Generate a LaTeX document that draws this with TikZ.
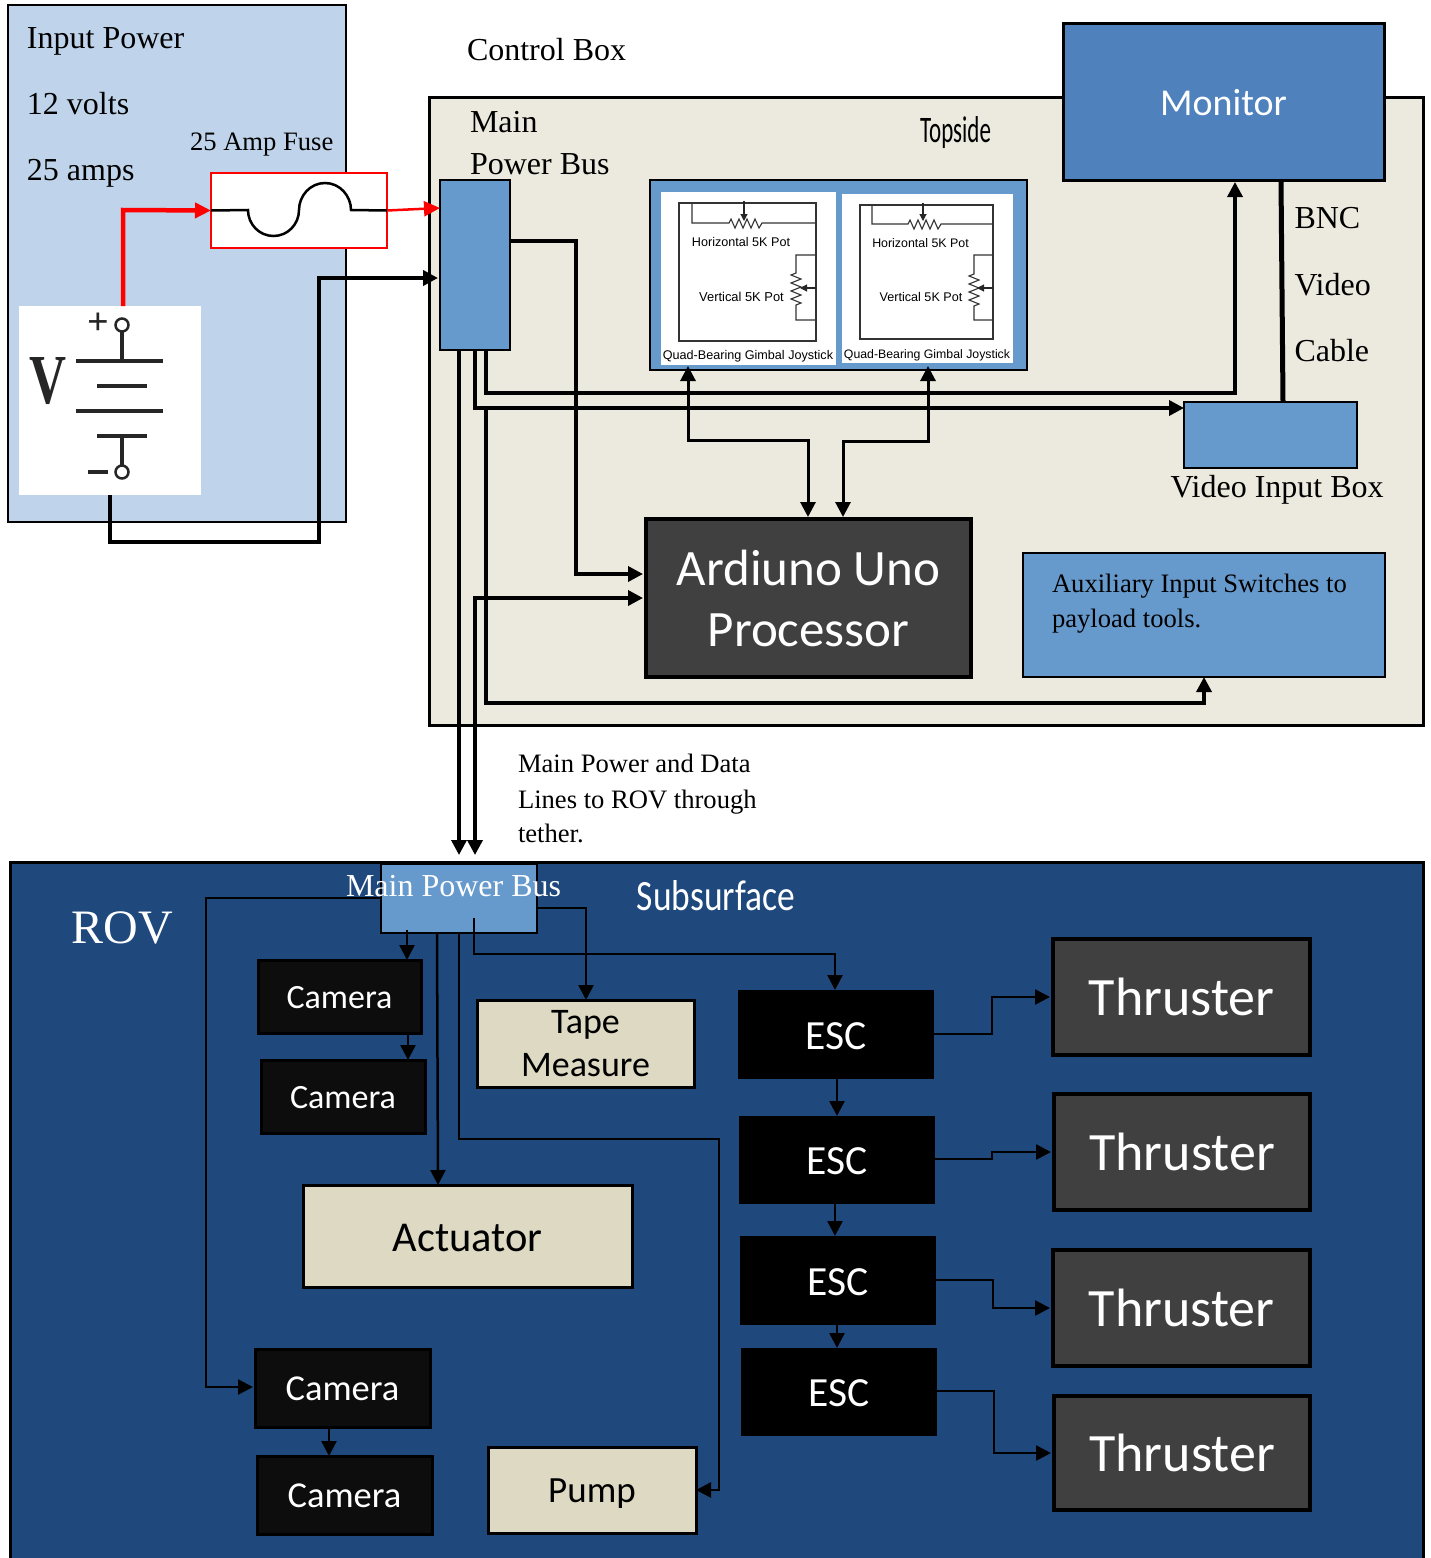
\documentclass[tikz,border=0pt]{standalone}
\usepackage{fontspec}
\usepackage{graphicx}
\setmainfont{Liberation Serif}
\newfontfamily\crl{Carlito}
\newfontfamily\ari{Liberation Sans}
\usetikzlibrary{arrows.meta,calc}
\definecolor{pale}{HTML}{BFD4EA}
\definecolor{cream}{HTML}{ECEADE}
\definecolor{steel}{HTML}{4F81BD}
\definecolor{midblue}{HTML}{6699CC}
\definecolor{navy}{HTML}{1F497D}
\definecolor{dgrey}{HTML}{404040}
\definecolor{nearblk}{HTML}{0D0D0D}
\definecolor{tanfill}{HTML}{DDD9C3}
\newcommand{\fs}[1]{\fontsize{#1}{#1}\selectfont}
\newcommand{\fl}[2]{\fontsize{#1}{#2}\selectfont}
\newcommand{\bx}[7]{%
  \pgfmathsetmacro{\bxw}{#4-#2}\pgfmathsetmacro{\bxh}{#5-#3}%
  \pgfmathsetmacro{\bxx}{(#2+#4)/2}\pgfmathsetmacro{\bxy}{(#3+#5)/2}%
  \node[#6,minimum width=\bxw pt,minimum height=\bxh pt] (#1) at (\bxx,\bxy) {#7};}
\tikzset{
  x=1pt,y=-1pt,
  every node/.style={inner sep=0pt,outer sep=0pt},
  lbl/.style={anchor=base west,align=left},
  srf/.style={lbl,font=\fs{32}},
  srfs/.style={lbl,font=\fs{26.6}},
  bus/.style={draw=black,line width=2pt,fill=midblue},
  escbox/.style={fill=black,text=white,font=\crl\fs{41.5},text height=29pt,text depth=0pt},
  cambox/.style={draw=black,line width=3pt,fill=nearblk,text=white,font=\crl\fs{34},text height=24pt,text depth=0pt},
  cambig/.style={draw=black,line width=3pt,fill=nearblk,text=white,font=\crl\fs{36.5},text height=24.5pt,text depth=0pt},
  thrbox/.style={draw=black,line width=4pt,fill=dgrey,text=white,font=\crl\fs{54},text height=37pt,text depth=0pt},
  tanbox/.style={draw=black,line width=3pt,fill=tanfill,text=black,align=center},
  ctl/.style={line width=3.5pt,-{Triangle[length=15pt,width=15pt]}},
  dbl/.style={line width=3pt,{Triangle[length=15pt,width=15pt]}-{Triangle[length=15pt,width=15pt]},shorten <=-4pt,shorten >=2pt},
  rov/.style={line width=2.5pt,-{Triangle[length=15pt,width=15pt]}},
  wire/.style={line width=1.1pt,black!80},
  tinyarr/.style={line width=1.1pt,black!85,-{Triangle[length=7pt,width=7pt]}},
  sym/.style={line width=3.5pt,black!85},
}
\begin{document}
\begin{tikzpicture}
\useasboundingbox (0,0) rectangle (1431,1558);
% --- panels
\bx{inputpanel}{8}{5}{346}{522}{draw=black,line width=2pt,fill=pale}{}
\bx{controlpanel}{429}{97}{1423}{725}{draw=black,line width=3pt,fill=cream}{}
\begin{scope}
\clip (0,0) rectangle (1431,1558);
\bx{rovpanel}{10}{862}{1423}{1570}{draw=black,line width=3pt,fill=navy}{}
\end{scope}
% --- top text
\node[srf] (tInput) at (27,48) {Input Power};
\node[srf] (tVolts) at (27,114) {12 volts};
\node[srf] (tAmps) at (27,180) {25 amps};
\node[srfs] (tFuse) at (190,150.5) {25 Amp Fuse};
\node[srf] (tCtl) at (467,60) {Control Box};
\node[srf] (tMain) at (470,132) {Main};
\node[srf] (tPbus) at (470,174) {Power Bus};
\node[anchor=center] (tTop) at (955.5,133) {\resizebox{71pt}{26pt}{\crl Topside}};
\node[srf] (tBnc) at (1294.5,228) {BNC};
\node[srf] (tVid) at (1294.5,295) {Video};
\node[srf] (tCab) at (1294.5,361) {Cable};
\node[srf] (tVib) at (1170.5,497) {Video Input Box};
\node[srfs] (tData1) at (518,772.5) {Main Power and Data};
\node[srfs] (tData2) at (518,808.5) {Lines to ROV through};
\node[srfs] (tData3) at (518,842.5) {tether.};
% --- battery
\bx{battery}{19}{306}{201}{495}{fill=white}{}
\node[anchor=center,black!85] (tV) at (48,381) {\resizebox{37pt}{46pt}{\bfseries V}};
\node[anchor=center,font=\bfseries\fs{38},black!85] (tPlus) at (98,324) {+};
\node[draw=black!85,line width=2.5pt,circle,minimum size=13pt] (bt) at (122,325) {};
\node[draw=black!85,line width=2.5pt,circle,minimum size=13pt] (bb) at (122,472) {};
\draw[sym] (bt) -- (122,361);
\draw[sym] (76,361) -- (163,361);
\draw[sym] (97,386) -- (147,386);
\draw[sym] (76,411) -- (163,411);
\draw[sym] (97,436) -- (147,436);
\draw[sym] (122,436) -- (bb);
\draw[line width=4pt,black!85] (88,472) -- (108,472);
% --- fuse
\bx{fuse}{211}{173}{387}{248}{draw=red,line width=2pt,fill=white}{}
\draw[line width=2.5pt,black] (fuse.west) -- (248,210)
  .. controls (248,224) and (259,236) .. (273.5,236)
  .. controls (288,236) and (299,224) .. (299,210)
  .. controls (299,196) and (310,183) .. (325,183)
  .. controls (340,183) and (351,196) .. (351,210) -- (fuse.east);
% --- main blocks
\bx{mainbus}{440}{180}{510}{350}{bus}{}
\bx{joypanel}{650}{180}{1027}{370}{bus}{}
\bx{joyA}{661}{192}{836}{365}{fill=white}{}
\bx{joyB}{842}{194}{1013}{363}{fill=white}{}
\bx{monitor}{1063}{23}{1384}{180}{draw=black,line width=3pt,fill=steel,text=white,font=\crl\fs{38},text height=28pt,text depth=0pt}{Monitor}
\bx{videobox}{1184}{402}{1357}{468}{bus}{}
\bx{uno}{646}{519}{971}{677}{draw=black,line width=4pt,fill=dgrey,text=white,align=center,font=\crl\fl{51}{61}}{Ardiuno Uno\\Processor}
\bx{aux}{1023}{553}{1385}{677}{bus}{}
\node[srfs] (tAux1) at (1052,592.5) {Auxiliary Input Switches to};
\node[srfs] (tAux2) at (1052,627.5) {payload tools.};
% --- joystick A circuit
\draw[wire] (679,203) rectangle (816,341);
\draw[wire] (692,203) -- (692,223) -- (729,223) -- (731,219) -- (735,228) -- (739,219) -- (743,228) -- (747,219) -- (751,228) -- (755,219) -- (759,228) -- (762,223) -- (816,223);
\draw[tinyarr] (744,201) -- (744,221);
\draw[wire] (816,255) -- (796,255) -- (796,273) -- (791,275) -- (801,279) -- (791,283) -- (801,287) -- (791,291) -- (801,295) -- (791,299) -- (801,303) -- (796,305) -- (796,320) -- (816,320);
\draw[tinyarr] (816,288) -- (800,288);
\node[font=\ari\fs{12.6}] (tHa) at (741,242) {Horizontal 5K Pot};
\node[font=\ari\fs{12.9}] (tVa) at (741.5,297) {Vertical 5K Pot};
\node[font=\ari\fs{12.6}] (tQa) at (748,356) {Quad-Bearing Gimbal Joystick};
% --- joystick B circuit
\draw[wire] (860,205) rectangle (993,339);
\draw[wire] (872,205) -- (872,224) -- (908,224) -- (910,220) -- (914,229) -- (918,220) -- (922,229) -- (926,220) -- (930,229) -- (934,220) -- (938,229) -- (941,224) -- (993,224);
\draw[tinyarr] (923,203) -- (923,221);
\draw[wire] (993,255) -- (974,255) -- (974,274) -- (969,276) -- (979,280) -- (969,284) -- (979,288) -- (969,292) -- (979,296) -- (969,300) -- (979,304) -- (974,306) -- (974,320) -- (993,320);
\draw[tinyarr] (993,288) -- (977,288);
\node[font=\ari\fs{12.4}] (tHb) at (920.5,243) {Horizontal 5K Pot};
\node[font=\ari\fs{12.6}] (tVb) at (921,297) {Vertical 5K Pot};
\node[font=\ari\fs{12.3}] (tQb) at (927,355) {Quad-Bearing Gimbal Joystick};
% --- topside connectors
\draw[line width=4.5pt,red,-{Triangle[length=16pt,width=15pt]}] (battery.north -| 123,0) -- (123,210) -- (fuse.west);
\draw[line width=2.5pt,red,-{Triangle[length=16pt,width=15pt]}] (fuse.east) -- (mainbus.west |- 0,208);
\draw[line width=4pt,-{Triangle[length=15pt,width=15pt]}] (battery.south -| 110,0) -- (110,542) -- (319,542) -- (319,278) -- ([xshift=-2pt]mainbus.west |- 0,278);
\draw[ctl,shorten >=3pt] (mainbus.east |- 0,241) -- (576,241) -- (576,574) -- (uno.west |- 0,574);
\draw[ctl,shorten >=3pt,{Triangle[length=15pt,width=15pt]}-{Triangle[length=15pt,width=15pt]}] (475,855) -- (475,598) -- (uno.west |- 0,598);
\draw[ctl] (mainbus.south -| 475,0) -- (475,408) -- (videobox.west |- 0,408);
\draw[ctl,shorten >=2pt] (mainbus.south -| 486,0) -- (486,393) -- (1235,393) -- (monitor.south -| 1235,0);
\draw[ctl] (486,408) -- (486,703) -- (1204,703) -- (aux.south -| 1204,0);
\draw[ctl] (mainbus.south -| 459,0) -- (459,855);
\draw[dbl] (joypanel.south -| 688,0) -- (688,440) -- (808,440) -- (uno.north -| 808,0);
\draw[dbl] (joypanel.south -| 928,0) -- (928,441) -- (843,441) -- (uno.north -| 843,0);
\draw[line width=5pt] (monitor.south -| 1281,0) -- (videobox.north -| 1283,0);
% --- ROV
\node[anchor=base west,text=white,font=\fs{48}] (tRov) at (71.5,943) {ROV};
\node[anchor=center,text=white] (tSub) at (716,896) {\resizebox{158pt}{30pt}{\crl Subsurface}};
\bx{rovbus}{381}{864}{537}{933}{bus}{}
\node[srf,text=white] (tRbus) at (346,896) {Main Power Bus};
\bx{camA}{258}{960}{421}{1033}{cambox}{Camera}
\bx{camB}{261}{1060}{425}{1133}{cambox}{Camera}
\bx{camC}{255}{1349}{430}{1427}{cambig}{Camera}
\bx{camD}{257}{1456}{432}{1534}{cambig}{Camera}
\bx{tape}{477}{1000}{694}{1087}{tanbox,font=\crl\fl{36}{43}}{Tape\\Measure}
\bx{actuator}{303}{1185}{632}{1287}{tanbox,font=\crl\fs{42.5},text height=30pt,text depth=0pt}{Actuator}
\bx{pump}{488}{1447}{696}{1533}{tanbox,font=\crl\fs{37},text height=32pt,text depth=7pt}{Pump}
\bx{escA}{738}{990}{934}{1079}{escbox}{ESC}
\bx{escB}{739}{1116}{935}{1204}{escbox}{ESC}
\bx{escC}{740}{1236}{936}{1325}{escbox}{ESC}
\bx{escD}{741}{1348}{937}{1436}{escbox}{ESC}
\bx{thrA}{1053}{939}{1310}{1055}{thrbox}{Thruster}
\bx{thrB}{1054}{1094}{1310}{1210}{thrbox}{Thruster}
\bx{thrC}{1053}{1250}{1310}{1366}{thrbox}{Thruster}
\bx{thrD}{1054}{1396}{1310}{1510}{thrbox}{Thruster}
% --- ROV connectors
\draw[rov] (407,930) -- (camA.north -| 407,0);
\draw[rov] (camA.south -| 408,0) -- (camB.north -| 408,0);
\draw[rov] (rovbus.south -| 437,0) -- (actuator.north -| 438,0);
\draw[rov] (rovbus.south -| 459,0) -- (459,1139) -- (719,1139) -- (719,1490) -- (pump.east |- 0,1490);
\draw[rov] (474,918) -- (474,954) -- (835,954) -- (escA.north -| 835,0);
\draw[rov] (rovbus.east |- 0,908) -- (586,908) -- (tape.north -| 586,0);
\draw[rov,shorten >=2pt] (rovbus.west |- 0,898) -- (206,898) -- (206,1387) -- (camC.west |- 0,1387);
\draw[rov] (camC.south -| 329,0) -- (camD.north -| 329,0);
\draw[rov] (escA.south -| 837,0) -- (escB.north -| 837,0);
\draw[rov] (escB.south -| 835,0) -- (escC.north -| 835,0);
\draw[rov] (escC.south -| 837,0) -- (escD.north -| 837,0);
\draw[rov,shorten >=3pt] (escA.east |- 0,1034) -- (992,1034) -- (992,997) -- (thrA.west |- 0,997);
\draw[rov,shorten >=3pt] (escB.east |- 0,1159) -- (992,1159) -- (992,1152) -- (thrB.west |- 0,1152);
\draw[rov,shorten >=3pt] (escC.east |- 0,1280) -- (993,1280) -- (993,1308) -- (thrC.west |- 0,1308);
\draw[rov,shorten >=3pt] (escD.east |- 0,1391) -- (994,1391) -- (994,1453) -- (thrD.west |- 0,1453);
\end{tikzpicture}
\end{document}
